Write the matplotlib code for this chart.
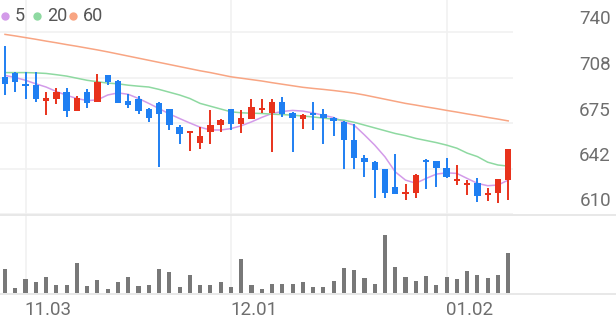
import matplotlib
matplotlib.use('Agg')
import matplotlib.pyplot as plt
from matplotlib.lines import Line2D
import numpy as np

plt.rcParams['font.family'] = ['Roboto', 'DejaVu Sans']

# ---- data ----
opens = [708, 711, 703, 702, 690.5, 692.5, 697.2, 683.6, 697.2, 690,
         709, 705, 690.8, 692, 684.8, 689.3, 684.8, 672.2, 668.2, 660.4,
         668.7, 673.4, 684.8, 674.2, 677.6, 684.1, 682.2, 689.7, 682.2, 677.6,
         682, 681.2, 678.9, 675.8, 663.2, 650.1, 647.3, 641.9, 629.5, 624.3,
         625.2, 648.9, 647.8, 643, 633.7, 630.7, 631.9, 623.5, 625.2, 634.2]
highs = [730, 711.5, 711.4, 711.4, 697.2, 700.3, 700.3, 694.1, 699.6, 710.3,
         709.5, 705.5, 695.7, 694.3, 686, 689.8, 685.3, 673.4, 669.6, 671.8,
         684.6, 677.6, 685, 684.1, 691.8, 691.8, 691.8, 693.6, 683, 681.7,
         690, 684.8, 679, 676.5, 674.6, 652, 647.8, 642, 652.8, 631.2,
         638.5, 649, 648, 649.7, 645, 634.2, 635.4, 628.3, 634.7, 656.3]
lows = [695, 697, 692, 690, 681, 688.4, 679.4, 683.6, 685.8, 690,
        702, 689.3, 686, 681.3, 675.8, 643.7, 670, 660, 654.8, 656.1,
        660, 668.7, 670, 668, 677.6, 682.2, 654.4, 679.4, 654.4, 670.6,
        670, 660, 665.6, 642, 642, 636.6, 621.2, 621.2, 624.1, 620,
        621.2, 627.8, 629.5, 635.9, 630.7, 623.5, 618.3, 619.5, 617.8, 620]
closes = [703, 704, 701.5, 692.5, 693, 697.2, 683.6, 692.9, 689.3, 704.4,
          704, 689.6, 687.7, 683.6, 678.9, 681.7, 673.4, 667, 668.9, 665.6,
          673.9, 677, 674.6, 678.3, 686.5, 686, 689.7, 681.7, 678.3, 681,
          680.5, 678.3, 676.5, 662.7, 649.7, 647.3, 641.4, 624.8, 624.3, 625.9,
          637.8, 647.3, 642.6, 636.6, 635, 631.9, 623, 624.8, 634.7, 656.1]
volumes = [24, 5, 14.3, 11.3, 16, 8.3, 8.3, 29.7, 7.3, 13.3,
           4, 10.7, 16, 7.3, 7.7, 24, 21, 6, 18, 7.7,
           8.3, 10.7, 5.7, 34, 8, 4.3, 9.3, 9.3, 9.3, 11.3,
           5.7, 6.3, 11.7, 25, 23, 15.3, 9, 57.7, 26, 16,
           11.7, 17, 8, 16, 14.3, 22.3, 17.7, 15, 18, 40]
ma5 = [709, 707.5, 705.5, 703, 700.7, 697.5, 694.8, 692.5, 691, 691.5,
       695, 696.5, 695.5, 692.5, 689, 685.3, 681.5, 678.2, 675, 672,
       670, 670, 671, 673, 675.8, 679, 681.8, 683.2, 684, 683.5,
       682.2, 680.5, 678.9, 675.8, 673.4, 666.5, 659.2, 650.8, 640.1, 634.2,
       632, 635.4, 638.5, 639.4, 639, 635.4, 631.9, 630.2, 630.7, 634.2]
ma20 = [711, 711, 711, 710.8, 710.4, 709.5, 708.5, 707, 705.5, 704.5,
        703.5, 703, 702, 701.3, 700.7, 699, 697, 695, 692.5, 689,
        687, 685, 683, 682.3, 682, 681.8, 681.3, 681, 680.6, 680,
        679.3, 678.5, 677.7, 677, 675.5, 673.5, 671.5, 669.5, 667.5, 666,
        664, 662.5, 661, 659.2, 657, 653.5, 651, 647, 645, 644.2]
ma60 = [738.3, 737.2, 736, 734.8, 733.5, 732.3, 731, 729.8, 728.5, 727.2,
        725.8, 724.3, 722.8, 721.3, 719.8, 718.3, 716.8, 715.3, 713.8, 712.3,
        711, 709.5, 708, 707, 706, 705, 703.8, 702.7, 701.6, 700.5,
        699.7, 699, 698.2, 697.3, 696.3, 695, 693.5, 692, 690.5, 689,
        687.8, 686.5, 685.3, 684, 682.8, 681.5, 680.3, 679, 677.8, 676.5]
ma_labels = ['5', '20', '60']
price_ticks = [610, 642.5, 675, 707.5, 740]
price_tick_labels = ['610', '642', '675', '708', '740']
date_pos = [2, 22, 43]
date_labels = ['11.03', '12.01', '01.02']

# ---- styling ----
RED = '#e8321c'
BLUE = '#1f7ff2'
MA_COLORS = ['#d39be9', '#8ed9a1', '#f8a583']
GRID = '#f1f1f1'
LINE = '#e6e6e6'
TXT = '#6e6e6e'

W, H = 616, 321
fig = plt.figure(figsize=(W / 100, H / 100), dpi=100)
fig.patch.set_facecolor('white')

def rect(x0, y0, x1, y1):
    return [x0 / W, 1 - y1 / H, (x1 - x0) / W, (y1 - y0) / H]

step = 10.27
x_first = 5.0
xl = ((0 - x_first) / step, (513 - x_first) / step)

ax = fig.add_axes(rect(0, 0, 513, 214))
axv = fig.add_axes(rect(0, 214, 513, 293))
for a in (ax, axv):
    a.set_xlim(*xl)
    for s in a.spines.values():
        s.set_visible(False)
    a.tick_params(left=False, bottom=False, labelleft=False, labelbottom=False)
    a.set_facecolor('none')

ax.set_ylim(610, 740 + 32 / 1.4)
axv.set_ylim(0, 79)

n = len(closes)
x = np.arange(n)

# grid
for v in price_ticks:
    ax.axhline(v, color=GRID, lw=1.2, zorder=0)
for p in date_pos:
    ax.axvline(p, color=GRID, lw=1.2, zorder=0)
    axv.axvline(p, color=GRID, lw=1.2, zorder=0)

# candles
o = np.array(opens); c = np.array(closes)
hi = np.array(highs); lo = np.array(lows)
cols = [RED if cc >= oo else BLUE for oo, cc in zip(o, c)]
ax.vlines(x, lo, hi, colors=cols, lw=1.4, zorder=3)
bottoms = np.minimum(o, c)
heights = np.maximum(np.abs(c - o), 0.9)
ax.bar(x, heights, bottom=bottoms, width=0.62, color=cols, zorder=4)

# moving averages
for vals, col in zip([ma5, ma20, ma60], MA_COLORS):
    ax.plot(x, vals, color=col, lw=1.1, zorder=2)

# volume
axv.bar(x, volumes, width=0.4, color='#787878', zorder=3)

# separator lines
fig.add_artist(Line2D([0, 1], [1 - 214.5 / H] * 2, color=LINE, lw=1.3,
                      transform=fig.transFigure))
fig.add_artist(Line2D([0, 1], [1 - 293.5 / H] * 2, color=LINE, lw=1.3,
                      transform=fig.transFigure))

# price labels (right, above grid lines)
for v, lab in zip(price_ticks, price_tick_labels):
    ax.annotate(lab, xy=(1, v), xycoords=('axes fraction', 'data'),
                xytext=(98 * 0.72, 12.5 * 0.72), textcoords='offset points',
                ha='right', va='center', fontsize=13.5, color=TXT,
                annotation_clip=False)

# date labels
for p, lab in zip(date_pos, date_labels):
    axv.annotate(lab, xy=(p, 0), xycoords='data',
                 xytext=(-1 * 0.72, -17 * 0.72), textcoords='offset points',
                 ha='left', va='center', fontsize=13.5, color=TXT,
                 annotation_clip=False)

# legend
lx = [5, 37, 73]
for xx, col, lab in zip(lx, MA_COLORS, ma_labels):
    fig.add_artist(Line2D([xx / W], [1 - 16 / H], marker='o', markersize=6.0,
                          color=col, markeredgewidth=0, linestyle='none',
                          transform=fig.transFigure))
    fig.text((xx + 10) / W, 1 - 16 / H, lab, ha='left', va='center',
             fontsize=13, color='#555555')

fig.savefig('out.png', dpi=100, facecolor='white')
